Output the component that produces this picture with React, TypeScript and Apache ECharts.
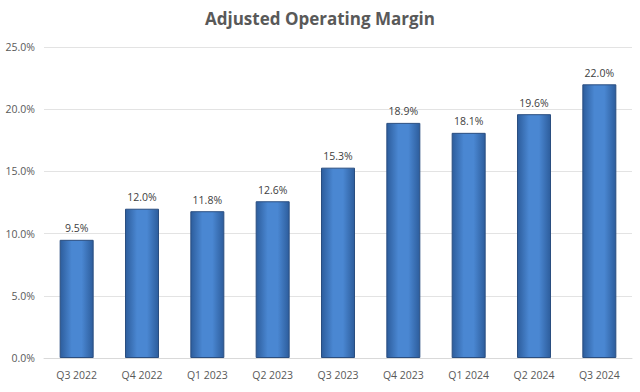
import React, { useEffect, useRef } from "react";
import * as echarts from "echarts";

const categories = ["Q3 2022", "Q4 2022", "Q1 2023", "Q2 2023", "Q3 2023", "Q4 2023", "Q1 2024", "Q2 2024", "Q3 2024"];
const margins = [9.5, 12.0, 11.8, 12.6, 15.3, 18.9, 18.1, 19.6, 22.0];
const yTicks = [0, 5, 10, 15, 20, 25];

export default function App() {
  const ref = useRef<HTMLDivElement>(null);
  useEffect(() => {
    if (!ref.current) return;
    const chart = echarts.init(ref.current, undefined, { renderer: "svg" });
    const barColor = new echarts.graphic.LinearGradient(0, 0, 1, 0, [
      { offset: 0, color: "#2d5d9c" },
      { offset: 0.35, color: "#4a87d2" },
      { offset: 0.65, color: "#4a87d2" },
      { offset: 1, color: "#2d5d9c" },
    ]);
    chart.setOption({
      animation: false,
      backgroundColor: "#ffffff",
      title: {
        text: "Adjusted Operating Margin",
        left: "center",
        top: 5,
        textStyle: { fontFamily: "Open Sans", fontWeight: "bold", fontSize: 17, color: "#595959" },
      },
      grid: { left: 44, right: 8, top: 47, bottom: 34 },
      xAxis: {
        type: "category",
        data: categories,
        axisLine: { lineStyle: { color: "#d9d9d9" } },
        axisTick: { show: false },
        axisLabel: { color: "#595959", fontFamily: "Open Sans", fontSize: 10.5, margin: 11 },
      },
      yAxis: {
        type: "value",
        min: yTicks[0],
        max: yTicks[yTicks.length - 1],
        interval: 5,
        axisLine: { show: false },
        axisTick: { show: false },
        splitLine: { lineStyle: { color: "#e3e3e3" } },
        axisLabel: {
          color: "#595959",
          fontFamily: "Open Sans",
          fontSize: 10.5,
          margin: 9,
          formatter: (v: number) => v.toFixed(1) + "%",
        },
      },
      series: [
        {
          type: "bar",
          data: margins,
          barWidth: 34,
          itemStyle: { color: barColor, borderColor: "#2a4e80", borderWidth: 1 },
          label: {
            show: true,
            position: "top",
            distance: 6,
            color: "#404040",
            fontFamily: "Open Sans",
            fontSize: 10.5,
            formatter: (p: any) => p.value.toFixed(1) + "%",
          },
        },
      ],
    });
    return () => chart.dispose();
  }, []);
  return <div ref={ref} style={{ width: 640, height: 392, position: "absolute", left: 0, top: 0 }} />;
}
